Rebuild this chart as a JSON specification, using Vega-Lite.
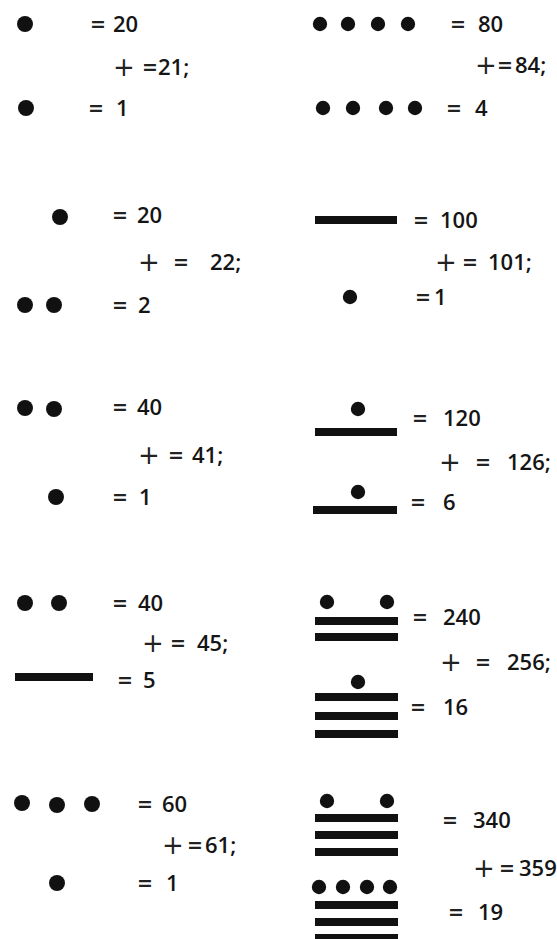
{
  "$schema": "https://vega.github.io/schema/vega-lite/v6.json",
  "width": 557,
  "height": 939,
  "autosize": {"type": "fit", "contains": "padding"},
  "padding": 0,
  "background": "white",
  "config": {"view": {"stroke": null}},
  "datasets": {
    "dots": [
      {"x": 25, "y": 24}, {"x": 26, "y": 108}, {"x": 60, "y": 217},
      {"x": 25, "y": 305}, {"x": 54, "y": 305},
      {"x": 25, "y": 408}, {"x": 54, "y": 409}, {"x": 56, "y": 497},
      {"x": 25, "y": 603}, {"x": 59, "y": 603},
      {"x": 22, "y": 803}, {"x": 57, "y": 805}, {"x": 92, "y": 804}, {"x": 57, "y": 883},
      {"x": 320, "y": 24}, {"x": 348, "y": 24}, {"x": 378, "y": 24}, {"x": 408, "y": 24},
      {"x": 323, "y": 108}, {"x": 353, "y": 108}, {"x": 386, "y": 108}, {"x": 415, "y": 108},
      {"x": 350, "y": 297}, {"x": 358, "y": 409}, {"x": 358, "y": 492},
      {"x": 327, "y": 602}, {"x": 387, "y": 602}, {"x": 358, "y": 682},
      {"x": 327, "y": 801}, {"x": 387, "y": 801},
      {"x": 319, "y": 887}, {"x": 343, "y": 887}, {"x": 367, "y": 887}, {"x": 390, "y": 887}
    ],
    "bars": [
      {"x": 15, "x2": 93, "y": 677},
      {"x": 315, "x2": 397, "y": 220},
      {"x": 315, "x2": 397, "y": 432},
      {"x": 313, "x2": 397, "y": 510},
      {"x": 315, "x2": 398, "y": 621},
      {"x": 315, "x2": 398, "y": 637},
      {"x": 315, "x2": 398, "y": 697},
      {"x": 315, "x2": 398, "y": 716},
      {"x": 315, "x2": 398, "y": 734},
      {"x": 315, "x2": 398, "y": 818},
      {"x": 315, "x2": 398, "y": 835},
      {"x": 315, "x2": 398, "y": 852},
      {"x": 315, "x2": 398, "y": 905},
      {"x": 315, "x2": 398, "y": 922},
      {"x": 315, "x2": 398, "y": 938}
    ],
    "tokens": [
      {"k": "eq", "x": 90, "y": 24, "t": "="}, {"k": "num", "x": 113, "y": 24, "t": "20"},
      {"k": "plus", "x": 113, "y": 67, "t": "+"}, {"k": "eq", "x": 142, "y": 67, "t": "="}, {"k": "num", "x": 158, "y": 67, "t": "21;"},
      {"k": "eq", "x": 88, "y": 108, "t": "="}, {"k": "num", "x": 116, "y": 108, "t": "1"},
      {"k": "eq", "x": 112, "y": 215, "t": "="}, {"k": "num", "x": 137, "y": 215, "t": "20"},
      {"k": "plus", "x": 138, "y": 262, "t": "+"}, {"k": "eq", "x": 173, "y": 262, "t": "="}, {"k": "num", "x": 210, "y": 262, "t": "22;"},
      {"k": "eq", "x": 112, "y": 305, "t": "="}, {"k": "num", "x": 138, "y": 305, "t": "2"},
      {"k": "eq", "x": 112, "y": 407, "t": "="}, {"k": "num", "x": 137, "y": 407, "t": "40"},
      {"k": "plus", "x": 138, "y": 455, "t": "+"}, {"k": "eq", "x": 168, "y": 455, "t": "="}, {"k": "num", "x": 192, "y": 455, "t": "41;"},
      {"k": "eq", "x": 112, "y": 497, "t": "="}, {"k": "num", "x": 139, "y": 497, "t": "1"},
      {"k": "eq", "x": 112, "y": 603, "t": "="}, {"k": "num", "x": 138, "y": 603, "t": "40"},
      {"k": "plus", "x": 142, "y": 643, "t": "+"}, {"k": "eq", "x": 170, "y": 643, "t": "="}, {"k": "num", "x": 197, "y": 643, "t": "45;"},
      {"k": "eq", "x": 117, "y": 680, "t": "="}, {"k": "num", "x": 143, "y": 680, "t": "5"},
      {"k": "eq", "x": 137, "y": 804, "t": "="}, {"k": "num", "x": 162, "y": 804, "t": "60"},
      {"k": "plus", "x": 162, "y": 845, "t": "+"}, {"k": "eq", "x": 187, "y": 845, "t": "="}, {"k": "num", "x": 205, "y": 845, "t": "61;"},
      {"k": "eq", "x": 137, "y": 883, "t": "="}, {"k": "num", "x": 166, "y": 883, "t": "1"},
      {"k": "eq", "x": 450, "y": 24, "t": "="}, {"k": "num", "x": 478, "y": 24, "t": "80"},
      {"k": "plus", "x": 475, "y": 65, "t": "+"}, {"k": "eq", "x": 497, "y": 65, "t": "="}, {"k": "num", "x": 515, "y": 65, "t": "84;"},
      {"k": "eq", "x": 446, "y": 108, "t": "="}, {"k": "num", "x": 475, "y": 108, "t": "4"},
      {"k": "eq", "x": 413, "y": 220, "t": "="}, {"k": "num", "x": 440, "y": 220, "t": "100"},
      {"k": "plus", "x": 435, "y": 262, "t": "+"}, {"k": "eq", "x": 462, "y": 262, "t": "="}, {"k": "num", "x": 488, "y": 262, "t": "101;"},
      {"k": "eq", "x": 415, "y": 297, "t": "="}, {"k": "num", "x": 434, "y": 297, "t": "1"},
      {"k": "eq", "x": 412, "y": 418, "t": "="}, {"k": "num", "x": 443, "y": 418, "t": "120"},
      {"k": "plus", "x": 439, "y": 462, "t": "+"}, {"k": "eq", "x": 475, "y": 462, "t": "="}, {"k": "num", "x": 507, "y": 462, "t": "126;"},
      {"k": "eq", "x": 410, "y": 502, "t": "="}, {"k": "num", "x": 443, "y": 502, "t": "6"},
      {"k": "eq", "x": 412, "y": 617, "t": "="}, {"k": "num", "x": 443, "y": 617, "t": "240"},
      {"k": "plus", "x": 440, "y": 662, "t": "+"}, {"k": "eq", "x": 475, "y": 662, "t": "="}, {"k": "num", "x": 507, "y": 662, "t": "256;"},
      {"k": "eq", "x": 410, "y": 707, "t": "="}, {"k": "num", "x": 443, "y": 707, "t": "16"},
      {"k": "eq", "x": 442, "y": 820, "t": "="}, {"k": "num", "x": 473, "y": 820, "t": "340"},
      {"k": "plus", "x": 473, "y": 868, "t": "+"}, {"k": "eq", "x": 499, "y": 868, "t": "="}, {"k": "num", "x": 519, "y": 868, "t": "359;"},
      {"k": "eq", "x": 448, "y": 912, "t": "="}, {"k": "num", "x": 478, "y": 912, "t": "19"}
    ]
  },
  "layer": [
    {
      "data": {"name": "bars"},
      "mark": {"type": "rule", "strokeWidth": 8, "color": "#111111", "strokeCap": "butt", "clip": true},
      "encoding": {
        "x": {"field": "x", "type": "quantitative", "scale": {"domain": [0, 557], "nice": false, "zero": false}, "axis": null},
        "x2": {"field": "x2"},
        "y": {"field": "y", "type": "quantitative", "scale": {"domain": [939, 0], "nice": false, "zero": false}, "axis": null}
      }
    },
    {
      "data": {"name": "dots"},
      "transform": [{"filter": "datum.x < 200"}],
      "mark": {"type": "circle", "size": 255, "color": "#111111", "opacity": 1},
      "encoding": {
        "x": {"field": "x", "type": "quantitative", "scale": {"domain": [0, 557], "nice": false, "zero": false}, "axis": null},
        "y": {"field": "y", "type": "quantitative", "scale": {"domain": [939, 0], "nice": false, "zero": false}, "axis": null}
      }
    },
    {
      "data": {"name": "dots"},
      "transform": [{"filter": "datum.x >= 200"}],
      "mark": {"type": "circle", "size": 205, "color": "#111111", "opacity": 1},
      "encoding": {
        "x": {"field": "x", "type": "quantitative", "scale": {"domain": [0, 557], "nice": false, "zero": false}, "axis": null},
        "y": {"field": "y", "type": "quantitative", "scale": {"domain": [939, 0], "nice": false, "zero": false}, "axis": null}
      }
    },
    {
      "data": {"name": "tokens"},
      "transform": [{"filter": "datum.k == 'num'"}],
      "mark": {"type": "text", "align": "left", "baseline": "middle", "font": "Open Sans", "fontSize": 22, "fontWeight": 600, "color": "#151515", "clip": true, "dy": 1},
      "encoding": {
        "x": {"field": "x", "type": "quantitative", "scale": {"domain": [0, 557], "nice": false, "zero": false}, "axis": null},
        "y": {"field": "y", "type": "quantitative", "scale": {"domain": [939, 0], "nice": false, "zero": false}, "axis": null},
        "text": {"field": "t"}
      }
    },
    {
      "data": {"name": "tokens"},
      "transform": [{"filter": "datum.k == 'eq'"}],
      "mark": {"type": "text", "align": "left", "baseline": "middle", "font": "DejaVu Sans", "fontSize": 19, "fontWeight": "bold", "color": "#222222", "clip": true, "dy": 1},
      "encoding": {
        "x": {"field": "x", "type": "quantitative", "scale": {"domain": [0, 557], "nice": false, "zero": false}, "axis": null},
        "y": {"field": "y", "type": "quantitative", "scale": {"domain": [939, 0], "nice": false, "zero": false}, "axis": null},
        "text": {"field": "t"}
      }
    },
    {
      "data": {"name": "tokens"},
      "transform": [{"filter": "datum.k == 'plus'"}],
      "mark": {"type": "text", "align": "left", "baseline": "middle", "font": "DejaVu Sans", "fontSize": 26, "fontWeight": "normal", "color": "#222222", "clip": true, "dy": 1},
      "encoding": {
        "x": {"field": "x", "type": "quantitative", "scale": {"domain": [0, 557], "nice": false, "zero": false}, "axis": null},
        "y": {"field": "y", "type": "quantitative", "scale": {"domain": [939, 0], "nice": false, "zero": false}, "axis": null},
        "text": {"field": "t"}
      }
    }
  ]
}
